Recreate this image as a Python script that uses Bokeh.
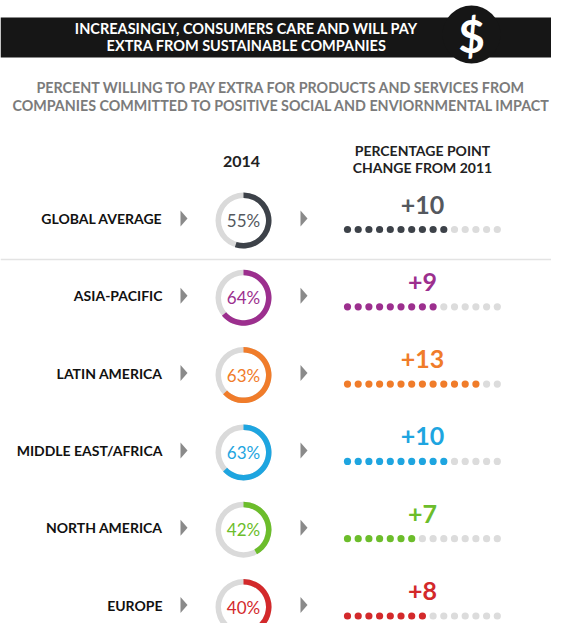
import math
from bokeh.plotting import figure
from bokeh.models import Range1d
from bokeh.core.properties import value
from bokeh.embed import file_html
from bokeh.resources import INLINE

# ---- data ----
regions = ["GLOBAL AVERAGE", "ASIA-PACIFIC", "LATIN AMERICA",
           "MIDDLE EAST/AFRICA", "NORTH AMERICA", "EUROPE"]
pct_2014 = [55, 64, 63, 63, 42, 40]
change_2011 = [10, 9, 13, 10, 7, 8]
colors = ["#3d4249", "#9c2f8e", "#f07c2a", "#1ea5e0", "#6cbd2b", "#d3292b"]
text_colors = ["#54585e", "#9c2f8e", "#f07c2a", "#1ea5e0", "#6cbd2b", "#d3292b"]
dot_total = 15

title_lines = ["INCREASINGLY, CONSUMERS CARE AND WILL PAY",
               "EXTRA FROM SUSTAINABLE COMPANIES"]
subtitle_lines = ["PERCENT WILLING TO PAY EXTRA FOR PRODUCTS AND SERVICES FROM",
                  "COMPANIES COMMITTED TO POSITIVE SOCIAL AND ENVIORNMENTAL IMPACT"]
col_head_2014 = "2014"
col_head_change = ["PERCENTAGE POINT", "CHANGE FROM 2011"]

# ---- layout (page pixel space, y downward -> use negative y) ----
FONT = value("Lato")
row0, row_step = 218, 77.3
label_x, arrow1_x, donut_x, arrow2_x, num_x = 162, 180, 243, 300, 422
dot_x0, dot_step = 347, 10.7

p = figure(width=551, height=623, output_backend="svg", toolbar_location=None,
           x_range=Range1d(0, 551), y_range=Range1d(-623, 0), min_border=0)
p.axis.visible = False
p.grid.visible = False
p.outline_line_color = None
p.background_fill_color = "white"

# header band
p.quad(left=[0], right=[551], top=[-17], bottom=[-57], fill_color="#161616", line_color=None)
p.circle(x=[471], y=[-34], radius=29, fill_color="#161616", line_color=None)
p.text(x=[471], y=[-35], text=["$"], text_color="white", text_font=FONT, text_font_style="bold",
       text_font_size="46px", text_align="center", text_baseline="middle")
p.text(x=[246, 246], y=[-28, -45], text=title_lines, text_color="white", text_font=FONT,
       text_font_style="bold", text_font_size="14.5px", text_align="center", text_baseline="middle")

# subtitle
p.text(x=[281, 281], y=[-87, -105], text=subtitle_lines, text_color="#7b7b7b", text_font=FONT,
       text_font_style="bold", text_font_size="14.3px", text_align="center", text_baseline="middle")

# column headers
p.text(x=[donut_x - 2], y=[-161], text=[col_head_2014], text_color="#222222", text_font=FONT,
       text_font_style="bold", text_font_size="16px", text_align="center", text_baseline="middle")
p.text(x=[num_x, num_x], y=[-150, -167], text=col_head_change, text_color="#222222", text_font=FONT,
       text_font_style="bold", text_font_size="14px", text_align="center", text_baseline="middle")

# separator under global average
p.segment(x0=[0], y0=[-259], x1=[551], y1=[-259], line_color="#e3e3e3", line_width=1.5)

rows_y = [row0 + i * row_step for i in range(len(regions))]

# labels
p.text(x=[label_x] * len(regions), y=[-(r) for r in rows_y], text=regions, text_color="#111111",
       text_font=FONT, text_font_style="bold", text_font_size="14px",
       text_align="right", text_baseline="middle")

# arrows
xs, ys = [], []
for r in rows_y:
    for ax in (arrow1_x, arrow2_x):
        xs.append([ax, ax, ax + 7])
        ys.append([-(r - 8), -(r + 8), -r])
p.patches(xs=xs, ys=ys, fill_color="#8a8a8a", line_color=None)

# donuts
dy = [-(r + 2) for r in rows_y]
p.annulus(x=[donut_x] * len(regions), y=dy, inner_radius=22.5, outer_radius=28,
          fill_color="#dadada", line_color=None)
p.annular_wedge(x=[donut_x] * len(regions), y=dy, inner_radius=22.5, outer_radius=28,
                start_angle=[math.pi / 2] * len(regions),
                end_angle=[math.pi / 2 - 2 * math.pi * v / 100 for v in pct_2014],
                direction="clock", fill_color=colors, line_color=None)
p.text(x=[donut_x] * len(regions), y=dy, text=[f"{v}%" for v in pct_2014], text_color=text_colors,
       text_font=FONT, text_font_size="17px", text_align="center", text_baseline="middle")

# change numbers
p.text(x=[num_x] * len(regions), y=[-(r - 14) for r in rows_y], text=[f"+{v}" for v in change_2011],
       text_color=text_colors, text_font=FONT, text_font_style="bold", text_font_size="25px",
       text_align="center", text_baseline="middle")

# dots
dxs, dys, dcs = [], [], []
for r, v, c in zip(rows_y, change_2011, colors):
    for k in range(dot_total):
        dxs.append(dot_x0 + k * dot_step)
        dys.append(-(r + 11))
        dcs.append(c if k < v else "#dcdcdc")
p.circle(x=dxs, y=dys, radius=3.6, fill_color=dcs, line_color=None)

open("out.html", "w").write(file_html(p, INLINE))
